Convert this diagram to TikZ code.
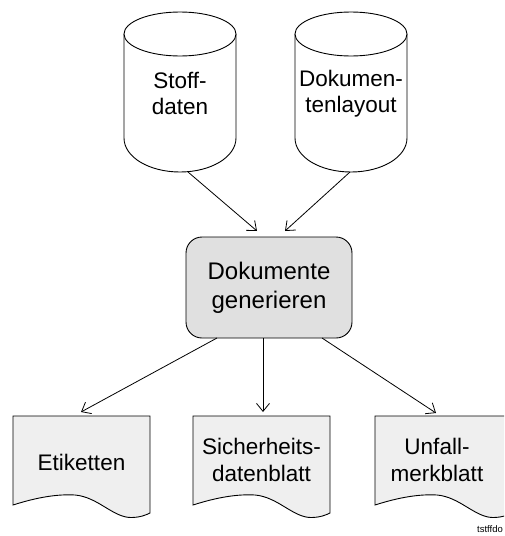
\documentclass[tikz,border=0pt]{standalone}
\usepackage{fontspec}
\setmainfont{Liberation Sans}
\usetikzlibrary{arrows.meta}

\definecolor{procfill}{HTML}{E0E0E0}
\definecolor{docfill}{HTML}{EFEFEF}

\begin{document}
\begin{tikzpicture}[x=1pt,y=-1pt,
  outline/.style={draw=black, line width=0.9pt},
  flow/.style={draw=black, line width=0.8pt, -{Straight Barb[length=8pt,width=13pt,line width=0.8pt]}},
  label/.style={align=center, font=\fontsize{22.5}{26.5}\selectfont, inner sep=0pt},
  proc/.style={outline, fill=procfill, rounded corners=16pt, minimum width=166pt,
    minimum height=101pt, align=center, font=\fontsize{24}{29}\selectfont},
]
\useasboundingbox (0,0) rectangle (504,536);

% data stores: cylinder with a flat top ellipse and a deeper lower rim
\foreach \cx/\name in {180/cylA, 351/cylB}{
  \draw[outline, fill=white] (\cx-56,34) -- (\cx-56,138)
    .. controls (\cx-56,157) and (\cx-31,172) .. (\cx,172)
    .. controls (\cx+31,172) and (\cx+56,157) .. (\cx+56,138) -- (\cx+56,34);
  \draw[outline, fill=white] (\cx,34) ellipse [x radius=56, y radius=22];
}
\node[label] (stoff)  at (180,93.5) {Stoff-\\daten};
\node[label] (layout) at (351,93.5) {Dokumen-\\tenlayout};

% process step
\node[proc] (gen) at (269,287.5) {Dokumente\\generieren};

% output documents with a wavy lower edge
\begin{scope}
\clip (0,0) rectangle (504,536);
\foreach \L in {13,193,375}{
  \draw[outline, fill=docfill] (\L,505) -- (\L,416) -- (\L+137,416) -- (\L+137,513)
    .. controls (\L+133,515) and (\L+127,517.5) .. (\L+118,517.5)
    .. controls (\L+100,517.5) and (\L+85,497) .. (\L+62,495)
    .. controls (\L+45,494) and (\L+25,497) .. cycle;
}
\end{scope}
\node[label] (etik) at (81.5,462) {Etiketten};
\node[label] (sdb)  at (261.5,460) {Sicherheits-\\datenblatt};
\node[label] (umb)  at (437,460) {Unfall-\\merkblatt};

% connector end points
\coordinate (stoffout)  at (188,172);
\coordinate (layoutout) at (350,172);
\coordinate (genin1)    at (257,231);
\coordinate (genin2)    at (285,231);
\coordinate (genout1)   at (217,338);
\coordinate (genout2)   at (263,338);
\coordinate (genout3)   at (322,338);
\coordinate (etikin)    at (81,412);
\coordinate (sdbin)     at (263,412);
\coordinate (umbin)     at (436,413);

\draw[flow] (stoffout) -- (genin1);
\draw[flow] (layoutout) -- (genin2);
\draw[flow] (genout1) -- (etikin);
\draw[flow] (genout2) -- (sdbin);
\draw[flow] (genout3) -- (umbin);

% file tag in the corner
\node[anchor=base west, inner sep=0pt, font=\fontsize{9.5}{11}\selectfont] (tag) at (477,532.5) {tstffdo};
\end{tikzpicture}
\end{document}
